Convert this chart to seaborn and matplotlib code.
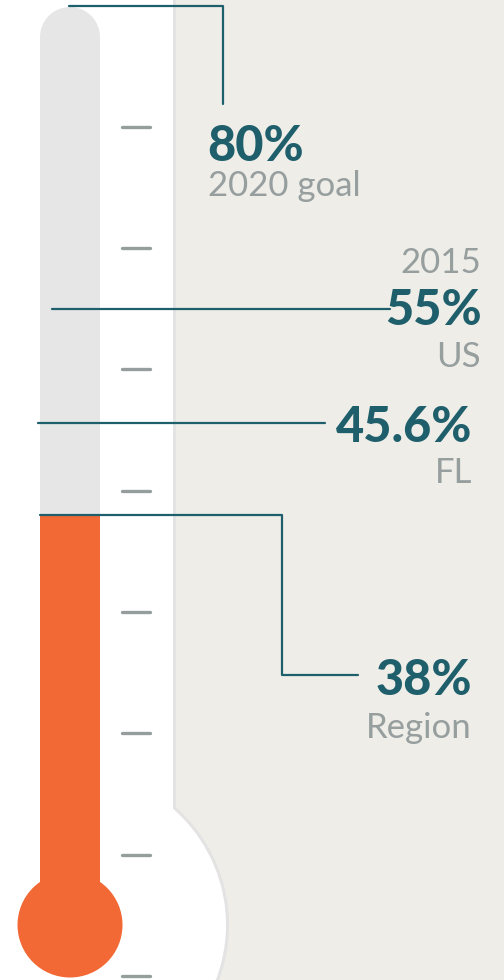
import matplotlib
matplotlib.use("Agg")
import matplotlib.pyplot as plt
from matplotlib.patches import Ellipse, Rectangle
import seaborn as sns

# ---- data ----
values = [80, 55, 45.6, 38]
value_labels = ["80%", "55%", "45.6%", "38%"]
names = ["2020 goal", "US", "FL", "Region"]
year_label = "2015"
tick_values = [0, 10, 20, 30, 40, 50, 60, 70]
current_value = 38

# ---- style ----
sns.set_theme(style="white")
plt.rcParams["font.family"] = ["Lato", "DejaVu Sans"]

TEAL = "#1F5F6C"
GREY_TXT = "#969E9E"
ORANGE = "#F26935"
TUBE = "#E6E6E6"
BG = "#EEEDE8"
TICK = "#959D9D"

W, H = 504, 980
K = 12.13          # pixels per percentage point
Y0 = 976           # pixel row of 0%


def v(py):
    """pixel row -> value units"""
    return (Y0 - py) / K


fig = plt.figure(figsize=(W / 100, H / 100), dpi=100)
fig.patch.set_facecolor(BG)
ax = fig.add_axes([0, 0, 1, 1])
ax.set_facecolor(BG)
ax.set_xlim(0, W)
ax.set_ylim(v(H), v(0))
ax.axis("off")

# white panel with bulb housing
cx, cy, R = 72, 925, 154
ax.add_patch(Ellipse((cx, v(cy)), 2 * (R + 3), 2 * (R + 3) / K, color="#E3E3E3", zorder=1, lw=0))
ax.add_patch(Rectangle((0, v(H)), 176, v(0) - v(H), color="#E3E3E3", zorder=1, lw=0))
ax.add_patch(Ellipse((cx, v(cy)), 2 * R, 2 * R / K, color="white", zorder=1.1, lw=0))
ax.add_patch(Rectangle((0, v(H)), 173, v(0) - v(H), color="white", zorder=1.1, lw=0))

# tube
bulb_v = v(925)
top_c = v(37)
ax.bar([70], [top_c - bulb_v], bottom=bulb_v, width=60, color=TUBE, zorder=2, linewidth=0)
ax.add_patch(Ellipse((70, top_c), 60, 60 / K, color=TUBE, zorder=2, lw=0))

# mercury
ax.bar([70], [current_value - bulb_v], bottom=bulb_v, width=60, color=ORANGE, zorder=3, linewidth=0)
ax.add_patch(Ellipse((70, bulb_v), 105, 105 / K, color=ORANGE, zorder=3, lw=0))

# ticks
for t in tick_values:
    ax.plot([122, 150], [t, t], color=TICK, lw=2.4, solid_capstyle="round", zorder=3)

# leader lines
lw = 1.6
# 80%
ax.plot([69, 223, 223], [values[0], values[0], v(104)], color=TEAL, lw=lw, zorder=4)
# 55%
ax.plot([52, 390], [values[1], values[1]], color=TEAL, lw=lw, zorder=4)
# 45.6%
ax.plot([38, 325], [values[2], values[2]], color=TEAL, lw=lw, zorder=4)
# 38%
ax.plot([40, 282, 282, 358], [values[3], values[3], v(675), v(675)], color=TEAL, lw=lw, zorder=4)

# labels
big = 35
small = 25
bw = 900
ax.text(207, v(161), value_labels[0], color=TEAL, fontsize=big, fontweight=bw, ha="left", va="baseline", zorder=5)
ax.text(208, v(196), names[0], color=GREY_TXT, fontsize=small, ha="left", va="baseline", zorder=5)

ax.text(481, v(273), year_label, color=GREY_TXT, fontsize=small, ha="right", va="baseline", zorder=5)
ax.text(482, v(325), value_labels[1], color=TEAL, fontsize=big, fontweight=bw, ha="right", va="baseline", zorder=5)
ax.text(481, v(367), names[1], color=GREY_TXT, fontsize=small, ha="right", va="baseline", zorder=5)

ax.text(472, v(442), value_labels[2], color=TEAL, fontsize=big, fontweight=bw, ha="right", va="baseline", zorder=5)
ax.text(472, v(483), names[2], color=GREY_TXT, fontsize=small, ha="right", va="baseline", zorder=5)

ax.text(472, v(695), value_labels[3], color=TEAL, fontsize=big, fontweight=bw, ha="right", va="baseline", zorder=5)
ax.text(472, v(738), names[3], color=GREY_TXT, fontsize=small, ha="right", va="baseline", zorder=5)

fig.savefig("out.png", dpi=100, facecolor=BG)
